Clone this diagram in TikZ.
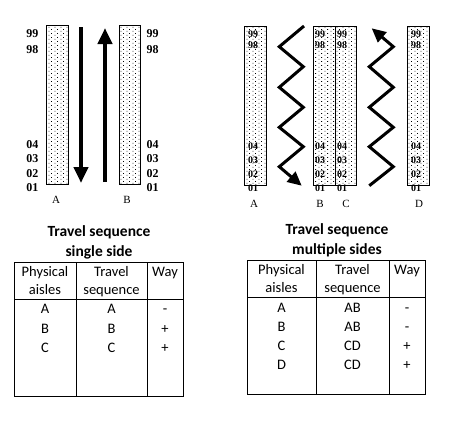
\documentclass[tikz,border=0pt]{standalone}
\usepackage{fontspec}
\setmainfont{Liberation Serif}
\newfontfamily\carlfont{Carlito}
\usetikzlibrary{arrows.meta,patterns}
\pgfdeclarepatternformonly{sparsedots}{\pgfqpoint{0pt}{0pt}}{\pgfqpoint{6pt}{4pt}}{\pgfqpoint{6pt}{4pt}}{%
  \pgfpathrectangle{\pgfqpoint{0.6pt}{0.6pt}}{\pgfqpoint{0.9pt}{0.9pt}}%
  \pgfpathrectangle{\pgfqpoint{3.6pt}{2.6pt}}{\pgfqpoint{0.9pt}{0.9pt}}%
  \pgfusepath{fill}}
\begin{document}
\begin{tikzpicture}[x=1pt,y=-1pt,
  aisle/.style={draw=black,line width=0.8pt,pattern=sparsedots,pattern color=black},
  num/.style={font=\fontsize{12}{13}\selectfont\bfseries,inner sep=0pt,text height=8pt,text depth=0pt},
  cnum/.style={font=\fontsize{10}{11}\selectfont\bfseries,inner sep=0pt,text height=6.8pt,text depth=0pt},
  let/.style={font=\fontsize{11}{12}\selectfont,inner sep=0pt,text height=7.3pt,text depth=0pt},
  bigarrow/.style={line width=4pt,-{Triangle[width=14pt,length=16pt]}},
  zig/.style={line width=3pt,line join=miter,-{Triangle[width=13pt,length=14pt]}},
  tt/.style={font=\carlfont\fontsize{14.5}{17}\selectfont,inner sep=0pt,text height=9.3pt,text depth=0pt},
  ttb/.style={font=\carlfont\bfseries\fontsize{15.5}{18}\selectfont,inner sep=0pt,text height=10pt,text depth=0pt},
  tline/.style={draw=black,line width=1pt}]
\useasboundingbox (0,0) rectangle (459,448);

% ---------- left panel ----------
\node[aisle,minimum width=22pt,minimum height=159pt,inner sep=0pt] (LA) at (57,104.5) {};
\node[aisle,minimum width=21pt,minimum height=159pt,inner sep=0pt] (LB) at (129.5,104.5) {};
\coordinate (d1) at (81,27); \coordinate (d2) at (81,183);
\coordinate (u1) at (105,182); \coordinate (u2) at (105,28);
\draw[bigarrow] (d1) -- (d2);
\draw[bigarrow] (u1) -- (u2);
\foreach \t/\y [count=\i] in {99/33.3,98/49.3,04/144,03/158,02/173.3,01/187.7}{
  \node[num,anchor=east] (LL\i) at (38.5,\y) {\t};
  \node[num,anchor=west] (LR\i) at (146.5,\y) {\t};
}
\node[let] (lA) at (56,200) {A};
\node[let] (lB) at (127,200) {B};

% ---------- right panel ----------
\node[aisle,minimum width=22pt,minimum height=159pt,inner sep=0pt] (RA) at (255,105.5) {};
\node[aisle,minimum width=22pt,minimum height=159pt,inner sep=0pt] (RB) at (324,105.5) {};
\node[aisle,minimum width=21pt,minimum height=159pt,inner sep=0pt] (RC) at (345.5,105.5) {};
\node[aisle,minimum width=22pt,minimum height=159pt,inner sep=0pt] (RD) at (418,105.5) {};
\foreach \x/\n in {248/A,315/B,337/C,411/D}{
  \foreach \t/\y [count=\i] in {99/34.5,98/45,04/146,03/160,02/174,01/188}{
    \node[cnum,anchor=west] (N\n\i) at (\x,\y) {\t};
  }
}
\node[let] (rA) at (254,204) {A};
\node[let] (rB) at (320,204) {B};
\node[let] (rC) at (346,204) {C};
\node[let] (rD) at (419,204) {D};

\foreach \p/\x/\y in {a0/304/26,a1/279.3/46.7,a2/303.3/66.7,a3/279.3/87.3,a4/303.3/107.3,a5/279.3/127.3,a6/303.3/146.7,a7/279.3/166.7,a8/301.7/185.7,
  b0/369.3/185.7,b1/393.3/166.7,b2/369.3/146.7,b3/393.3/127.3,b4/369.3/107.3,b5/393.3/87.3,b6/369.3/66.7,b7/393.3/46.7,b8/371.7/28.3}
  \coordinate (\p) at (\x,\y);
\draw[zig] (a0)--(a1)--(a2)--(a3)--(a4)--(a5)--(a6)--(a7)--(a8);
\draw[zig] (b0)--(b1)--(b2)--(b3)--(b4)--(b5)--(b6)--(b7)--(b8);

% ---------- left table ----------
\node[ttb] (t1a) at (99,231) {Travel sequence};
\node[ttb] (t1b) at (99,251) {single side};
\draw[tline] (14,262) rectangle (183,396);
\draw[tline] (76,262) -- (76,396);
\draw[tline] (147,262) -- (147,396);
\draw[tline] (14,299) -- (183,299);
\node[tt] (h11) at (45,272) {Physical};
\node[tt] (h12) at (45,290) {aisles};
\node[tt] (h21) at (111.5,272) {Travel};
\node[tt] (h22) at (111.5,290) {sequence};
\node[tt] (h31) at (165,272) {Way};
\foreach \a/\b/\c/\y [count=\i] in {A/A/-/309,B/B/+/329,C/C/+/348}{
  \node[tt] (lc1\i) at (45,\y) {\a};
  \node[tt] (lc2\i) at (111.5,\y) {\b};
  \node[tt] (lc3\i) at (165,\y) {\c};
}

% ---------- right table ----------
\node[ttb] (t2a) at (337,229) {Travel sequence};
\node[ttb] (t2b) at (337,249) {multiple sides};
\draw[tline] (247,260) rectangle (425,394);
\draw[tline] (316,260) -- (316,394);
\draw[tline] (389,260) -- (389,394);
\draw[tline] (247,297) -- (425,297);
\node[tt] (g11) at (281.5,270) {Physical};
\node[tt] (g12) at (281.5,288) {aisles};
\node[tt] (g21) at (352.5,270) {Travel};
\node[tt] (g22) at (352.5,288) {sequence};
\node[tt] (g31) at (407,270) {Way};
\foreach \a/\b/\c/\y [count=\i] in {A/AB/-/307.7,B/AB/-/327.3,C/CD/+/346,D/CD/+/365}{
  \node[tt] (rc1\i) at (281.5,\y) {\a};
  \node[tt] (rc2\i) at (352.5,\y) {\b};
  \node[tt] (rc3\i) at (407,\y) {\c};
}
\end{tikzpicture}
\end{document}
